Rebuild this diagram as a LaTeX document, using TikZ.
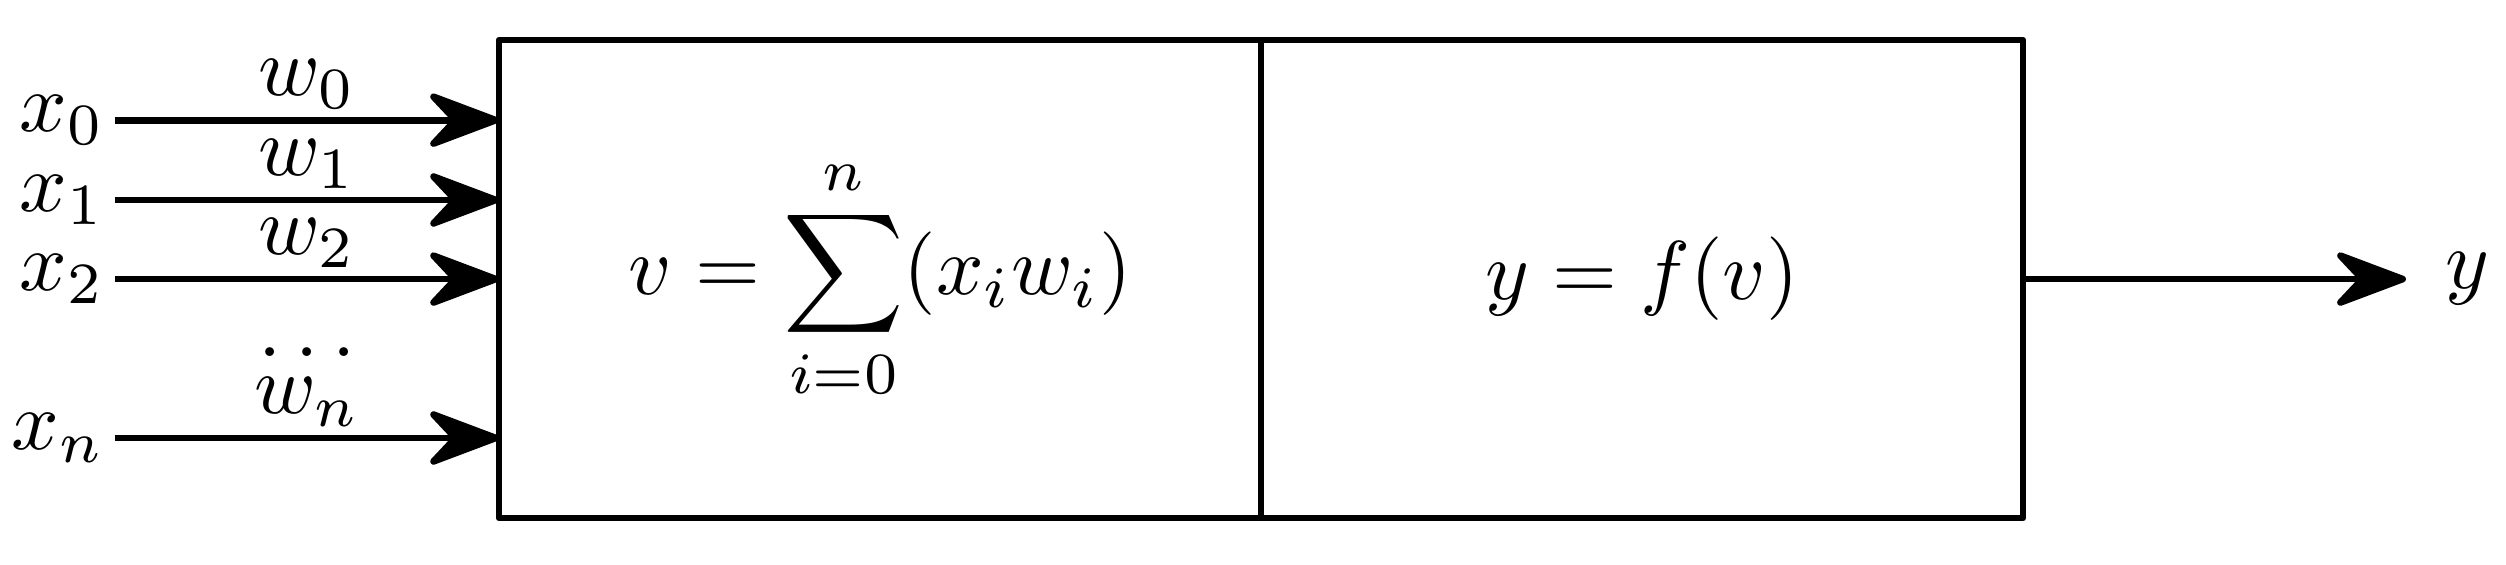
\documentclass[tikz,border=0pt]{standalone}
\usetikzlibrary{positioning,arrows.meta}
\begin{document}
\begin{tikzpicture}
    [cell/.style={draw, thick, line join=round, minimum width=3.208cm,
                  minimum height=2.012cm, inner sep=0pt, outer sep=0pt},
     signal/.style={thick, -{Stealth[length=10pt,width=7.5pt,inset=3.5pt,round]}},
     input/.style={inner sep=1pt},
     weight/.style={above, inner sep=1pt}]
    \useasboundingbox (-2.101,-0.194) rectangle (8.449,2.181);
    \node[cell, anchor=south west] (sum) at (0,0) {$\displaystyle v=\sum_{i=0}^{n}(x_iw_i)$};
    \node[cell, right=0pt of sum] (act) {$y=f(v)$};
    % inputs
    \coordinate (in0) at ([yshift=0.669cm]sum.west);
    \coordinate (in1) at ([yshift=0.333cm]sum.west);
    \coordinate (in2) at (sum.west);
    \coordinate (inn) at ([yshift=-0.669cm]sum.west);
    \node[input, left=1.617cm of in0] (x0) {$x_0$};
    \node[input, left=1.617cm of in1] (x1) {$x_1$};
    \node[input, left=1.617cm of in2] (x2) {$x_2$};
    \node[input, left=1.617cm of inn] (xn) {$x_n$};
    \draw[signal] (x0) -- node[weight] (w0) {$w_0$} (in0);
    \draw[signal] (x1) -- node[weight] (w1) {$w_1$} (in1);
    \draw[signal] (x2) -- node[weight] (w2) {$w_2$} (in2);
    \draw[signal] (xn) -- node[weight] (wn) {$w_n$} (inn);
    \node[inner sep=0pt] (dots) at ([yshift=10.3pt]wn.south) {$\dots$};
    % output
    \node[right=1.612cm of act, inner sep=4.5pt] (y) {$y$};
    \draw[signal] (act) -- (y);
\end{tikzpicture}
\end{document}
